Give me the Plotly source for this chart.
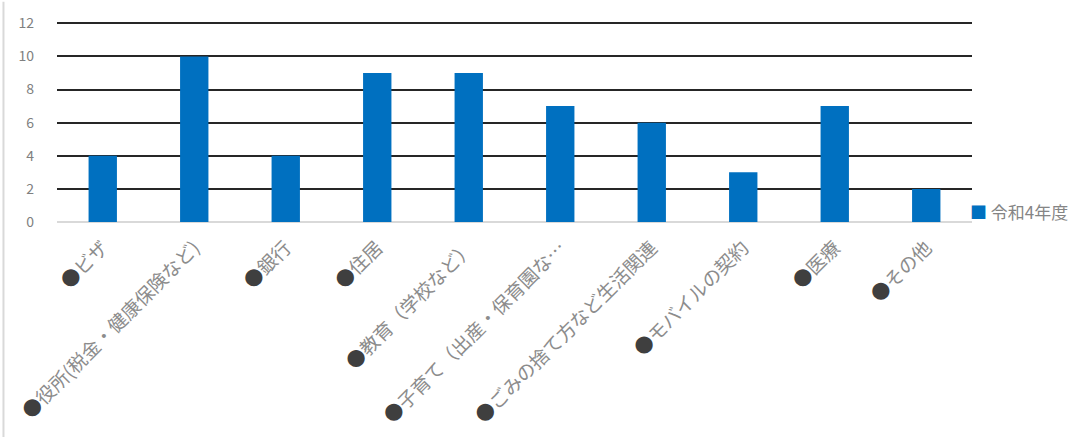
import plotly.graph_objects as go

categories = [
    "●ビザ",
    "●役所(税金・健康保険など)",
    "●銀行",
    "●住居",
    "●教育（学校など）",
    "●子育て（出産・保育園な…",
    "●ごみの捨て方など生活関連",
    "●モバイルの契約",
    "●医療",
    "●その他",
]
values_r4 = [4, 10, 4, 9, 9, 7, 6, 3, 7, 2]
series_name = "令和4年度"
y_ticks = [0, 2, 4, 6, 8, 10, 12]

FONT = "Noto Sans CJK JP"
BAR_COLOR = "#0070C0"
BULLET_COLOR = "#3F3F3F"

# darker bullet, lighter text in each category label
tick_text = [
    f"<span style='color:{BULLET_COLOR}'>●</span>{c[1:]}" if c.startswith("●") else c
    for c in categories
]

fig = go.Figure()
fig.add_trace(go.Bar(
    x=categories,
    y=values_r4,
    name=series_name,
    marker=dict(color=BAR_COLOR, line=dict(width=0)),
    showlegend=False,
))

fig.update_layout(
    width=1078,
    height=437,
    margin=dict(l=57, r=106, t=15, b=215),
    paper_bgcolor="white",
    plot_bgcolor="white",
    bargap=0.69,
    font=dict(family=FONT, color="#595959", size=13),
    xaxis=dict(
        tickmode="array",
        tickvals=categories,
        ticktext=tick_text,
        tickangle=-45,
        tickfont=dict(size=19, color="#8C8C8C"),
        showgrid=False,
        showline=False,
        ticks="",
        ticklabelstandoff=10,
        automargin=False,
    ),
    yaxis=dict(
        range=[0, 12.2],
        tickvals=y_ticks,
        tickfont=dict(size=14, color="#808080"),
        showgrid=True,
        gridcolor="#262626",
        gridwidth=2,
        zeroline=True,
        zerolinecolor="#D9D9D9",
        zerolinewidth=2,
        showline=False,
        ticks="",
        ticklabelstandoff=22,
    ),
    shapes=[dict(
        type="line", xref="paper", yref="paper",
        x0=-0.0585, x1=-0.0585, y0=-1.1, y1=1.09,
        line=dict(color="#D9D9D9", width=2),
    )],
    annotations=[dict(
        xref="paper", yref="paper",
        x=0.996, y=0.05, xanchor="left", yanchor="middle",
        showarrow=False,
        text=f"<span style='color:{BAR_COLOR}'>■</span> {series_name}",
        font=dict(size=17, color="#858585", family=FONT),
    )],
)

fig.write_html("out.html")
